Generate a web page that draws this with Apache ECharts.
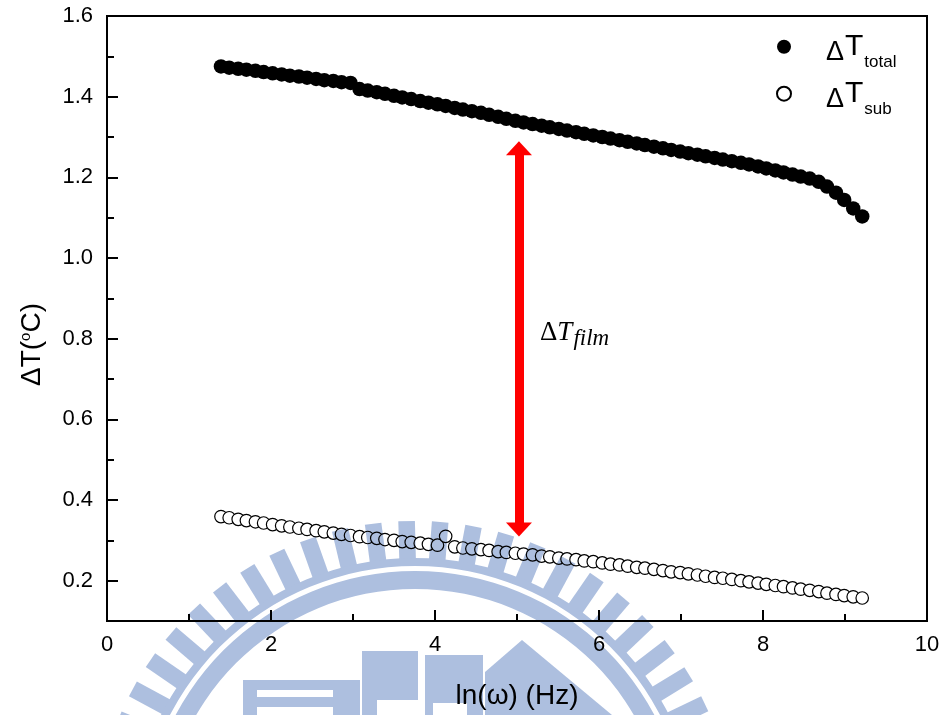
<!DOCTYPE html>
<html>
<head>
<meta charset="utf-8">
<script src="https://cdn.jsdelivr.net/npm/echarts@6/dist/echarts.min.js"></script>
<style>
  html, body { margin: 0; padding: 0; background: #ffffff; }
  #chart { width: 946px; height: 715px; }
</style>
</head>
<body>
<div id="chart"></div>
<script>
// ln(ω) sample positions (log-spaced frequency sweep)
const lnOmega = [
  1.39, 1.49, 1.60, 1.70, 1.81, 1.91, 2.02, 2.13, 2.23, 2.34,
  2.44, 2.55, 2.65, 2.76, 2.86, 2.97, 3.08, 3.18, 3.29, 3.39,
  3.50, 3.60, 3.71, 3.82, 3.92, 4.03, 4.13, 4.24, 4.34, 4.45,
  4.56, 4.66, 4.77, 4.87, 4.98, 5.08, 5.19, 5.30, 5.40, 5.51,
  5.61, 5.72, 5.82, 5.93, 6.04, 6.14, 6.25, 6.35, 6.46, 6.56,
  6.67, 6.78, 6.88, 6.99, 7.09, 7.20, 7.30, 7.41, 7.51, 7.62,
  7.73, 7.83, 7.94, 8.04, 8.15, 8.25, 8.36, 8.46, 8.57, 8.68,
  8.78, 8.89, 8.99, 9.10, 9.21
];

// total temperature oscillation amplitude (°C)
const dTtotal = [
  1.475, 1.472, 1.469, 1.467, 1.464, 1.461, 1.458, 1.455, 1.452, 1.450,
  1.447, 1.444, 1.441, 1.439, 1.436, 1.434, 1.419, 1.415, 1.411, 1.407,
  1.402, 1.398, 1.394, 1.389, 1.385, 1.381, 1.377, 1.372, 1.368, 1.364,
  1.360, 1.355, 1.350, 1.345, 1.340, 1.336, 1.332, 1.328, 1.324, 1.320,
  1.316, 1.312, 1.308, 1.304, 1.300, 1.296, 1.292, 1.288, 1.284, 1.280,
  1.276, 1.272, 1.268, 1.264, 1.260, 1.256, 1.252, 1.248, 1.244, 1.240,
  1.236, 1.232, 1.227, 1.222, 1.217, 1.212, 1.207, 1.202, 1.197, 1.189,
  1.177, 1.162, 1.144, 1.123, 1.103
];

// substrate temperature oscillation amplitude (°C)
const dTsub = [
  0.359, 0.356, 0.352, 0.349, 0.346, 0.343, 0.339, 0.336, 0.333, 0.330,
  0.327, 0.324, 0.321, 0.318, 0.315, 0.312, 0.309, 0.307, 0.305, 0.302,
  0.300, 0.297, 0.295, 0.293, 0.290, 0.288, 0.310, 0.284, 0.281, 0.279,
  0.277, 0.275, 0.272, 0.270, 0.268, 0.266, 0.264, 0.261, 0.259, 0.256,
  0.254, 0.252, 0.249, 0.247, 0.244, 0.241, 0.239, 0.236, 0.233, 0.231,
  0.228, 0.225, 0.222, 0.220, 0.217, 0.214, 0.211, 0.208, 0.206, 0.203,
  0.200, 0.197, 0.194, 0.191, 0.188, 0.185, 0.182, 0.179, 0.176, 0.173,
  0.169, 0.166, 0.163, 0.160, 0.157
];

// axis ranges
const xRange = [0, 10];
const xStep = 2;
const yRange = [0.1, 1.6];
const yMinorStep = 0.1;

// ΔT_film arrow: x position and the two tip values
const filmArrowX = 5.024;
const filmArrowTop = 1.272;
const filmArrowBottom = 0.327;

const FONT = 'Liberation Sans, Arial, Helvetica, sans-serif';
const SERIF = 'Liberation Serif, Times New Roman, serif';

function zip(xs, ys) { return xs.map((x, i) => [x, ys[i]]); }

// light-blue emblem drawn into an offscreen canvas, laid over the plot with multiply blending
function buildEmblem() {
  const c = document.createElement('canvas');
  c.width = 946; c.height = 715;
  const g = c.getContext('2d');
  g.fillStyle = '#adbfdf';
  const cx = 415, cy = 842;
  const hw = 8.3;
  for (let a = -97.5 - 6 * 16; a <= 5; a += 6) {
    const t = a * Math.PI / 180;
    const ux = Math.cos(t), uy = Math.sin(t);
    const px = -uy, py = ux;
    g.beginPath();
    g.moveTo(cx + ux * 280 + px * hw, cy + uy * 280 + py * hw);
    g.lineTo(cx + ux * 321 + px * hw, cy + uy * 321 + py * hw);
    g.lineTo(cx + ux * 321 - px * hw, cy + uy * 321 - py * hw);
    g.lineTo(cx + ux * 280 - px * hw, cy + uy * 280 - py * hw);
    g.closePath();
    g.fill();
  }
  function band(r0, r1) {
    g.beginPath();
    g.arc(cx, cy, r1, Math.PI, 2 * Math.PI);
    g.arc(cx, cy, r0, 2 * Math.PI, Math.PI, true);
    g.closePath();
    g.fill();
  }
  band(276, 284);
  band(253, 271);
  // lettered blocks
  g.fillRect(243, 680, 117, 10);
  g.fillRect(243, 690, 14, 25);
  g.fillRect(243, 697, 117, 10);
  g.fillRect(333, 690, 27, 25);
  g.fillRect(362, 651, 56, 49);
  g.fillRect(362, 700, 15, 15);
  g.fillRect(425, 655, 58, 48);
  g.fillRect(425, 703, 8, 12);
  g.fillRect(467, 703, 16, 12);
  g.beginPath();
  g.moveTo(485, 672); g.lineTo(522, 640); g.lineTo(612, 715); g.lineTo(485, 715);
  g.closePath();
  g.fill();
  return c;
}

const chart = echarts.init(document.getElementById('chart'), null, { renderer: 'canvas' });

const axisLineStyle = { color: '#000', width: 2 };

const option = {
  animation: false,
  backgroundColor: '#ffffff',
  grid: {
    left: 107, right: 19, top: 16, bottom: 93,
    show: true, borderColor: '#000', borderWidth: 2, backgroundColor: 'transparent'
  },
  legend: {
    orient: 'vertical',
    left: 776, top: 22.5,
    padding: 0,
    itemGap: -1.4,
    itemWidth: 14, itemHeight: 14,
    selectedMode: false,
    data: ['total', 'sub'],
    formatter: name => '{delta|Δ}{tee|T}{low|' + name + '}',
    textStyle: {
      color: '#000',
      fontFamily: FONT,
      fontSize: 24,
      padding: [0, 0, 0, 30],
      rich: {
        delta: { fontFamily: FONT, fontSize: 27, lineHeight: 27, padding: [11.6, 0, 0, 0], color: '#000' },
        tee: { fontFamily: FONT, fontSize: 30, lineHeight: 30, padding: [9.2, 0, 9.2, 1], color: '#000' },
        low: { fontFamily: FONT, fontSize: 17, lineHeight: 17, padding: [31.4, 0, 0, 1], color: '#000' }
      }
    }
  },
  xAxis: {
    type: 'value',
    min: xRange[0], max: xRange[1], interval: xStep,
    axisLine: { show: true, lineStyle: axisLineStyle },
    axisTick: { show: true, inside: true, length: 11, lineStyle: axisLineStyle },
    minorTick: { show: true, splitNumber: 2, length: 7, lineStyle: axisLineStyle },
    splitLine: { show: false },
    minorSplitLine: { show: false },
    axisLabel: { margin: 13, fontSize: 22, color: '#000', fontFamily: FONT },
    name: 'ln(ω) (Hz)',
    nameLocation: 'middle',
    nameGap: 61,
    nameTextStyle: { fontSize: 28, color: '#000', fontFamily: FONT }
  },
  yAxis: [
    {
      // 0.1-step short ticks
      type: 'value',
      position: 'left',
      min: yRange[0], max: yRange[1], interval: yMinorStep,
      axisLine: { show: true, lineStyle: axisLineStyle },
      axisTick: { show: true, inside: true, length: 7, lineStyle: axisLineStyle },
      axisLabel: { show: false },
      splitLine: { show: false }
    },
    {
      // labelled 0.2-step ticks
      type: 'value',
      position: 'left',
      min: yRange[0], max: yRange[1], splitNumber: 7,
      axisLine: { show: true, lineStyle: axisLineStyle },
      axisTick: { show: true, inside: true, length: 11, lineStyle: axisLineStyle },
      splitLine: { show: false },
      axisLabel: {
        margin: 14, fontSize: 22, color: '#000', fontFamily: FONT,
        showMinLabel: false,
        formatter: v => (v < 0.15 ? '' : v.toFixed(1))
      },
      name: '{a|ΔT(}{b|o}{a|C)}',
      nameLocation: 'middle',
      nameRotate: 90,
      nameGap: 61,
      nameTextStyle: {
        color: '#000', fontFamily: FONT, fontSize: 28,
        padding: [0, 52, 0, 0],
        rich: {
          a: { fontFamily: FONT, fontSize: 28, lineHeight: 28, color: '#000' },
          b: { fontFamily: FONT, fontSize: 15, lineHeight: 15, verticalAlign: 'top', color: '#000' }
        }
      }
    }
  ],
  graphic: [
    {
      type: 'text',
      left: 540, top: 310,
      silent: true,
      style: {
        text: '{d|Δ}{t|T}{f|film}',
        rich: {
          d: { fontFamily: SERIF, fontSize: 27, lineHeight: 27, padding: [5.4, 0, 0, 0], fill: '#000' },
          t: { fontFamily: SERIF, fontStyle: 'italic', fontSize: 27, lineHeight: 27, padding: [5.4, 0, 0, 0], fill: '#000' },
          f: { fontFamily: SERIF, fontStyle: 'italic', fontSize: 23, lineHeight: 23, padding: [17, 0, 0, 1], fill: '#000' }
        }
      }
    },
    {
      type: 'image',
      left: 0, top: 0, z: 200,
      silent: true,
      style: { image: buildEmblem(), width: 946, height: 715, blend: 'multiply' }
    }
  ],
  series: [
    {
      name: 'total',
      type: 'scatter',
      yAxisIndex: 0,
      data: zip(lnOmega, dTtotal),
      symbol: 'circle',
      symbolSize: 14.5,
      itemStyle: { color: '#000', opacity: 1 },
      emphasis: { disabled: true },
      markLine: {
        silent: true,
        animation: false,
        symbol: ['triangle', 'triangle'],
        symbolSize: [26, 14],
        label: { show: false },
        lineStyle: { color: '#ff0000', width: 9, type: 'solid', opacity: 1 },
        emphasis: { disabled: true },
        data: [[
          { coord: [filmArrowX, filmArrowTop] },
          { coord: [filmArrowX, filmArrowBottom] }
        ]]
      }
    },
    {
      name: 'sub',
      type: 'scatter',
      yAxisIndex: 0,
      data: zip(lnOmega, dTsub),
      symbol: 'circle',
      symbolSize: 12.5,
      itemStyle: { color: '#ffffff', borderColor: '#000', borderWidth: 1.2, opacity: 1 },
      emphasis: { disabled: true }
    }
  ]
};

chart.setOption(option);
</script>
</body>
</html>
